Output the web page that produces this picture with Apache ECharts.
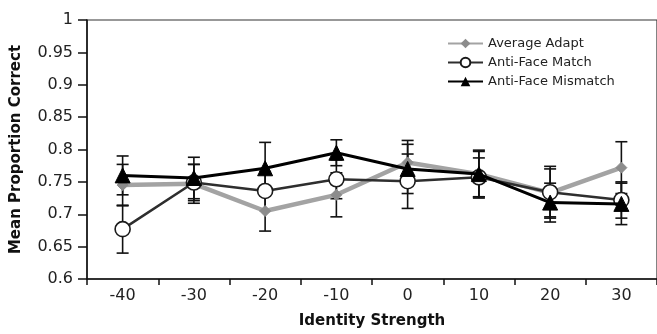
<!DOCTYPE html>
<html><head><meta charset="utf-8">
<script src="https://cdn.jsdelivr.net/npm/echarts@6/dist/echarts.min.js"></script>
<style>html,body{margin:0;padding:0;background:#fff}#c{width:657px;height:334px}</style>
</head><body><div id="c"></div>
<script>
const categories = ['-40','-30','-20','-10','0','10','20','30'];
const avgAdapt = [0.745, 0.747, 0.705, 0.730, 0.780, 0.762, 0.733, 0.772];
const avgErr   = [0.032, 0.030, 0.031, 0.034, 0.034, 0.035, 0.037, 0.040];
const match    = [0.677, 0.749, 0.736, 0.754, 0.751, 0.757, 0.734, 0.722];
const matchErr = [0.037, 0.028, 0.030, 0.030, 0.042, 0.030, 0.040, 0.028];
const mismatch    = [0.760, 0.756, 0.771, 0.795, 0.770, 0.762, 0.718, 0.716];
const mismatchErr = [0.030, 0.032, 0.040, 0.020, 0.038, 0.037, 0.030, 0.032];

const FONT = 'DejaVu Sans';
function errData(vals, errs){ return vals.map((v,i)=>[i, v-errs[i], v+errs[i]]); }
function errSeries(vals, errs){
  return {
    type:'custom', silent:true, z:1,
    data: errData(vals, errs),
    renderItem:function(params, api){
      const x = api.value(0);
      const lo = api.coord([x, api.value(1)]);
      const hi = api.coord([x, api.value(2)]);
      const w = 6;
      const st = {stroke:'#111', lineWidth:1.6};
      return {type:'group', children:[
        {type:'line', shape:{x1:lo[0],y1:lo[1],x2:hi[0],y2:hi[1]}, style:st},
        {type:'line', shape:{x1:lo[0]-w,y1:lo[1],x2:lo[0]+w,y2:lo[1]}, style:st},
        {type:'line', shape:{x1:hi[0]-w,y1:hi[1],x2:hi[0]+w,y2:hi[1]}, style:st}
      ]};
    }
  };
}
const chart = echarts.init(document.getElementById('c'), null, {renderer:'canvas'});
chart.setOption({
  animation:false,
  textStyle:{fontFamily:FONT},
  grid:{left:87, top:20, width:573, height:262, show:true, borderColor:'#333', borderWidth:1.2, backgroundColor:'transparent'},
  legend:{
    orient:'vertical', left:442, top:32, itemGap:6, itemWidth:35, itemHeight:12,
    textStyle:{fontFamily:FONT, fontSize:13, color:'#222'},
    data:['Average Adapt','Anti-Face Match','Anti-Face Mismatch']
  },
  xAxis:{
    type:'category', data:categories, boundaryGap:true,
    name:'Identity Strength', nameLocation:'middle', nameGap:35,
    nameTextStyle:{fontFamily:FONT, fontWeight:'bold', fontSize:15, color:'#111'},
    axisLine:{lineStyle:{color:'#111', width:1.5}},
    axisTick:{show:true, interval:0, length:6, lineStyle:{color:'#111', width:1.5}},
    axisLabel:{fontFamily:FONT, fontSize:16, color:'#222', margin:9, interval:0},
    splitLine:{show:false}
  },
  yAxis:{
    type:'value', min:0.6, max:1, interval:0.05,
    name:'Mean Proportion Correct', nameLocation:'middle', nameGap:63, nameRotate:90,
    nameTextStyle:{fontFamily:FONT, fontWeight:'bold', fontSize:15, color:'#111'},
    axisLine:{show:true, lineStyle:{color:'#111', width:1.5}},
    axisTick:{show:true, length:9, lineStyle:{color:'#111', width:1.5}},
    axisLabel:{fontFamily:FONT, fontSize:16, color:'#222', margin:14},
    splitLine:{show:false}
  },
  series:[
    errSeries(avgAdapt, avgErr),
    errSeries(match, matchErr),
    errSeries(mismatch, mismatchErr),
    {name:'Average Adapt', type:'line', data:avgAdapt, z:3,
     symbol:'diamond', symbolSize:11,
     lineStyle:{color:'#a3a3a3', width:4.5},
     itemStyle:{color:'#8c8c8c', borderColor:'#8c8c8c'}},
    {name:'Anti-Face Match', type:'line', data:match, z:4,
     symbol:'circle', symbolSize:15,
     lineStyle:{color:'#2e2e2e', width:2.5},
     itemStyle:{color:'#fff', borderColor:'#1a1a1a', borderWidth:1.6}},
    {name:'Anti-Face Mismatch', type:'line', data:mismatch, z:5,
     symbol:'triangle', symbolSize:15,
     lineStyle:{color:'#000', width:3},
     itemStyle:{color:'#000', borderColor:'#000'}}
  ]
});
</script></body></html>
